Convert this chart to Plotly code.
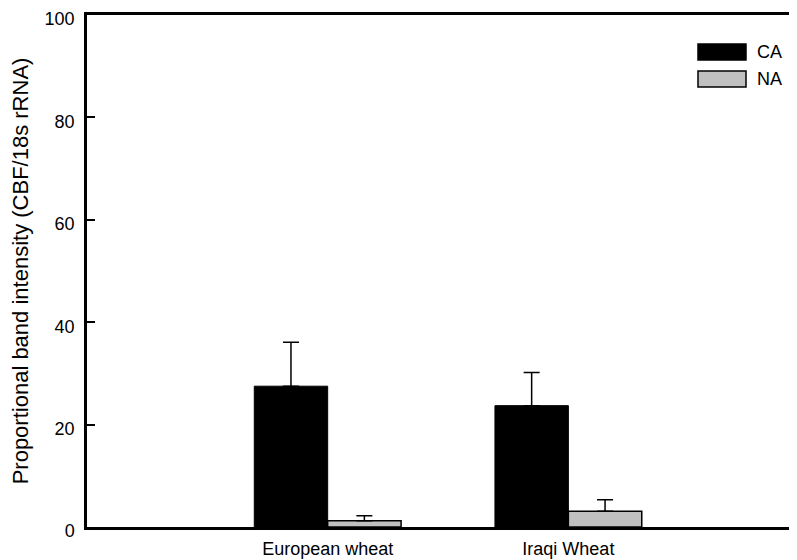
import plotly.graph_objects as go

categories = ["European wheat", "Iraqi Wheat"]
ca_values = [27.5, 23.7]
ca_errors = [8.6, 6.5]
na_values = [1.2, 3.1]
na_errors = [1.0, 2.2]
y_ticks = [0, 20, 40, 60, 80, 100]

FONT = "Liberation Sans, Arial, sans-serif"

# the page body has an 8px default margin; compensate so the plot lands where the reference has it
fig = go.Figure()
fig.add_trace(go.Bar(
    x=categories, y=ca_values, name="CA",
    marker=dict(color="black", line=dict(color="black", width=1)),
    error_y=dict(type="data", array=ca_errors, arrayminus=[0, 0], symmetric=False,
                 color="black", thickness=1.5, width=8),
    showlegend=False,
))
fig.add_trace(go.Bar(
    x=categories, y=na_values, name="NA",
    marker=dict(color="#c0c0c0", line=dict(color="black", width=1.5)),
    error_y=dict(type="data", array=na_errors, arrayminus=[0, 0], symmetric=False,
                 color="black", thickness=1.5, width=8),
    showlegend=False,
))

# custom legend keys (page coords converted to paper coords of the 710x512 plot area at 87,15)
legend_items = [("CA", "black"), ("NA", "#c0c0c0")]
for i, (name, col) in enumerate(legend_items):
    y0 = 44 + i * 27
    fig.add_shape(type="rect", xref="paper", yref="paper",
                  x0=(698 - 87) / 710, x1=(746 - 87) / 710,
                  y0=(527 - (y0 + 16)) / 512, y1=(527 - y0) / 512,
                  fillcolor=col, line=dict(color="black", width=1.5))
    fig.add_annotation(xref="paper", yref="paper",
                       x=(755 - 87) / 710, y=(527 - (y0 + 8)) / 512,
                       text=name, showarrow=False, xanchor="left", yanchor="middle",
                       font=dict(family=FONT, size=18, color="black"))

fig.update_layout(
    width=789, height=552,
    margin=dict(l=79, r=0, t=7, b=33, autoexpand=False),
    plot_bgcolor="white", paper_bgcolor="white",
    barmode="group", bargap=0.39, bargroupgap=0,
    font=dict(family=FONT, size=18, color="black"),
    xaxis=dict(range=[-1, 1.95], showline=True, linecolor="black", linewidth=2.5,
               mirror=True, ticks="", showgrid=False, zeroline=False,
               tickfont=dict(size=18), ticklabelstandoff=4),
    yaxis=dict(range=[0, 100], tickvals=y_ticks, showline=True, linecolor="black",
               linewidth=2.5, ticks="inside", ticklen=8, tickwidth=2, tickcolor="black",
               showgrid=False, zeroline=False, ticklabelstandoff=6,
               ticklabeloverflow="allow", ticklabelshift=4,
               tickfont=dict(size=18),
               title=dict(text="Proportional band intensity (CBF/18s rRNA)",
                          font=dict(size=22), standoff=15)),
)

fig.write_html("out.html")
